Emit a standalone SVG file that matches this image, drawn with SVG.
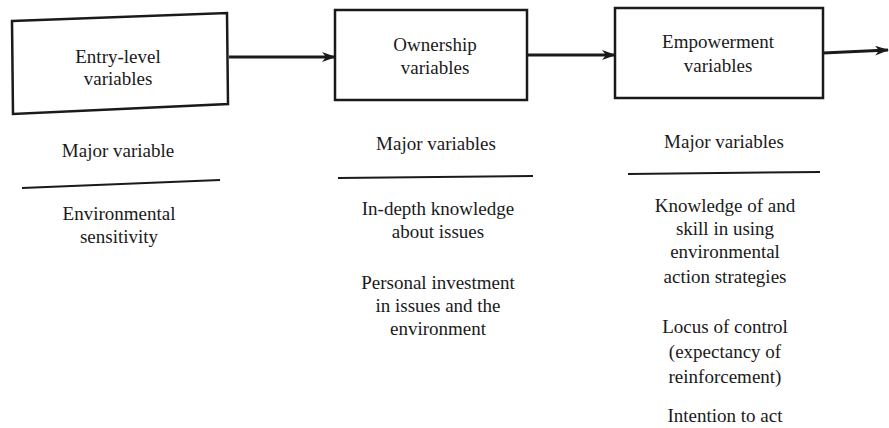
<svg xmlns="http://www.w3.org/2000/svg" width="889" height="428" viewBox="0 0 889 428">
<style>
text{font-size:19px;fill:#1a1a1a;text-anchor:middle}
.box{fill:#fff;stroke:#1a1a1a;stroke-width:2.5}
.ln{stroke:#1a1a1a;stroke-width:2;fill:none}
.arr{stroke:#1a1a1a;stroke-width:3;fill:none}
</style>
<defs>
<marker id="ah" markerWidth="14" markerHeight="10" refX="13" refY="5" orient="auto" markerUnits="userSpaceOnUse">
<path d="M0,0 L14,5 L0,10 L4,5 Z" fill="#1a1a1a"/>
</marker>
</defs>
<rect width="889" height="428" fill="#fff"/>
<g font-family="Liberation Serif, DejaVu Serif, serif">
<g id="connectors">
<line class="arr" x1="229" y1="57" x2="335" y2="57" marker-end="url(#ah)"/>
<line class="arr" x1="527" y1="55" x2="615" y2="55" marker-end="url(#ah)"/>
<line class="arr" x1="823" y1="53" x2="888" y2="50" marker-end="url(#ah)"/>
</g>
<g id="entry">
<polygon class="box" points="12,21 227,13 228,104 13,114"/>
<text x="118" y="63">Entry-level</text>
<text x="118" y="85">variables</text>
</g>
<g id="ownership">
<rect class="box" x="335" y="10" width="192" height="90"/>
<text x="435" y="51">Ownership</text>
<text x="435" y="74">variables</text>
</g>
<g id="empowerment">
<rect class="box" x="615" y="8" width="208" height="90"/>
<text x="718" y="48">Empowerment</text>
<text x="718" y="72">variables</text>
</g>
<g id="col1">
<text x="118" y="157">Major variable</text>
<line class="ln" x1="22" y1="188" x2="220" y2="180"/>
<text x="119" y="220">Environmental</text>
<text x="119" y="243">sensitivity</text>
</g>
<g id="col2">
<text x="436" y="150">Major variables</text>
<line class="ln" x1="338" y1="178" x2="533" y2="176"/>
<text x="438" y="215">In-depth knowledge</text>
<text x="438" y="238">about issues</text>
<text x="438" y="289">Personal investment</text>
<text x="438" y="312">in issues and the</text>
<text x="438" y="335">environment</text>
</g>
<g id="col3">
<text x="724" y="148">Major variables</text>
<line class="ln" x1="628" y1="174" x2="820" y2="172"/>
<text x="725" y="212">Knowledge of and</text>
<text x="725" y="235">skill in using</text>
<text x="725" y="258">environmental</text>
<text x="725" y="283">action strategies</text>
<text x="725" y="333">Locus of control</text>
<text x="725" y="358">(expectancy of</text>
<text x="725" y="383">reinforcement)</text>
<text x="725" y="422">Intention to act</text>
</g>
</g>
</svg>
